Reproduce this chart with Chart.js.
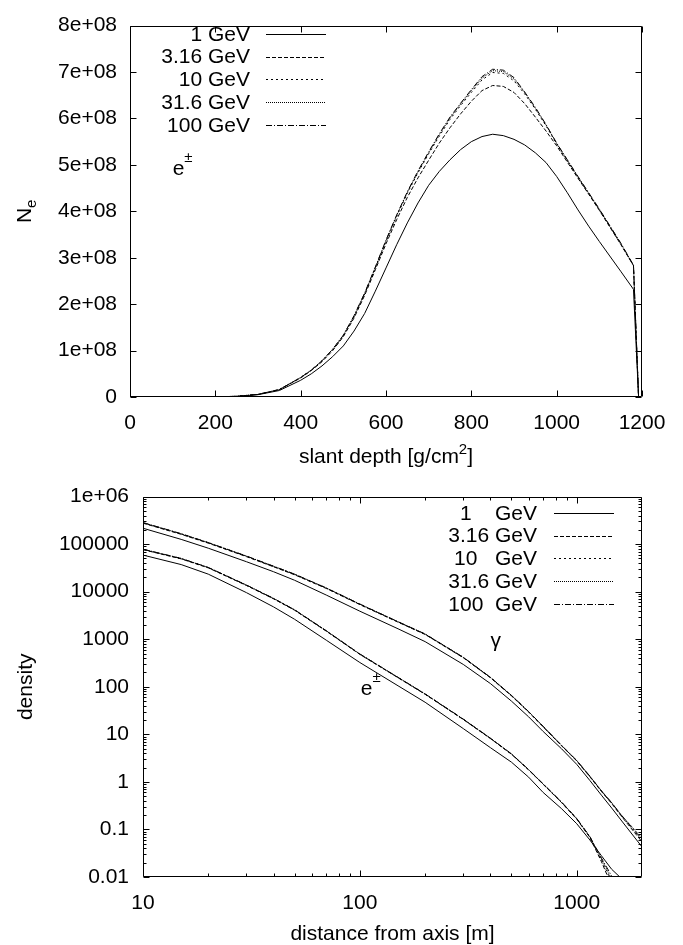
<!DOCTYPE html>
<html lang="en">
<head>
<meta charset="UTF-8">
<title>Shower size and lateral density</title>
<script src="https://cdn.jsdelivr.net/npm/chart.js@4.4.1/dist/chart.umd.min.js"></script>
<style>
  * { margin: 0; padding: 0; }
  body { background: #fff; width: 683px; height: 945px; overflow: hidden; }
  canvas { display: block; }
</style>
</head>
<body>
<canvas id="depthChart" width="683" height="470"></canvas>
<canvas id="lateralChart" width="683" height="475"></canvas>
<script>
  // ---- data ----
  const energyLabels = ['1 GeV', '3.16 GeV', '10 GeV', '31.6 GeV', '100 GeV'];
  const lateralLabels = ['1    GeV', '3.16 GeV', '10   GeV', '31.6 GeV', '100  GeV'];
  const dashes = [[], [4, 2], [2, 3], [1, 1], [6, 2, 1, 2]];

  // slant depth [g/cm2]; Ne in units of 1e8
  const neUnit = 1e8;
  const depth = [0, 100, 200, 250, 300, 350,
    400, 425, 450, 475, 500, 525, 550, 575, 600, 625, 650, 675, 700, 725, 750, 775, 800, 825, 850, 875, 900, 925, 950, 975, 1000, 1025, 1050, 1075, 1100,
    1150, 1180, 1192];
  const ne1 = [0, 0, 0.002, 0.012, 0.05, 0.14,
    0.36, 0.50, 0.67, 0.87, 1.10, 1.42, 1.80, 2.28, 2.78, 3.28, 3.75, 4.18, 4.56, 4.86, 5.11, 5.33, 5.50, 5.61, 5.66, 5.63, 5.55, 5.43, 5.26, 5.05, 4.75, 4.40, 4.03, 3.68, 3.35,
    2.71, 2.32, 0];
  const ne316 = [0, 0, 0.003, 0.015, 0.055, 0.16,
    0.41, 0.57, 0.76, 1.00, 1.30, 1.70, 2.19, 2.74, 3.30, 3.82, 4.30, 4.72, 5.10, 5.47, 5.80, 6.10, 6.37, 6.60, 6.71, 6.69, 6.56, 6.32, 6.03, 5.73, 5.41, 5.06, 4.71, 4.37, 4.02,
    3.29, 2.83, 0];
  const ne10 = [0, 0, 0.003, 0.015, 0.056, 0.16,
    0.42, 0.58, 0.78, 1.02, 1.32, 1.73, 2.22, 2.78, 3.35, 3.89, 4.39, 4.83, 5.24, 5.62, 5.98, 6.28, 6.56, 6.83, 6.99, 6.97, 6.81, 6.53, 6.20, 5.84, 5.45, 5.09, 4.73, 4.38, 4.03,
    3.30, 2.83, 0];
  const ne31 = [0, 0, 0.003, 0.015, 0.056, 0.16,
    0.42, 0.58, 0.78, 1.03, 1.33, 1.74, 2.23, 2.79, 3.37, 3.91, 4.41, 4.85, 5.26, 5.65, 6.01, 6.31, 6.60, 6.87, 7.03, 7.01, 6.85, 6.56, 6.22, 5.86, 5.46, 5.10, 4.74, 4.39, 4.04,
    3.31, 2.84, 0];
  const ne100 = [0, 0, 0.003, 0.015, 0.056, 0.16,
    0.42, 0.58, 0.78, 1.03, 1.33, 1.75, 2.24, 2.80, 3.38, 3.92, 4.42, 4.87, 5.28, 5.67, 6.03, 6.33, 6.62, 6.90, 7.06, 7.04, 6.88, 6.57, 6.24, 5.87, 5.47, 5.11, 4.75, 4.40, 4.05,
    3.32, 2.84, 0];

  // distance from axis [m]
  const dist = [10, 15, 20, 30, 40, 50, 70, 100, 150, 200, 300, 400, 500, 600, 700, 850, 1000, 1150, 1300, 1450, 1600, 2000];
  const gam1   = [216000, 126000, 82200, 42700, 26300, 17400, 8500, 3890, 1660, 891, 295, 117, 50, 23.4, 11.5, 5.0, 2.34, 1.07, 0.525, 0.282, 0.158, 0.043];
  const gam316 = [276000, 161000, 105000, 54600, 33400, 22700, 11700, 5350, 2290, 1260, 408, 155, 64.5, 29.5, 14.4, 5.78, 2.76, 1.28, 0.63, 0.35, 0.195, 0.055];
  const gam10  = [281000, 164000, 107000, 55600, 34000, 23200, 11900, 5450, 2320, 1280, 414, 157, 65.5, 29.9, 14.6, 5.85, 2.80, 1.30, 0.64, 0.36, 0.200, 0.059];
  const gam31  = [283000, 165000, 107500, 56000, 34200, 23300, 12000, 5480, 2330, 1285, 416, 158, 66, 30.1, 14.7, 5.9, 2.82, 1.32, 0.65, 0.366, 0.205, 0.066];
  const gam100 = [284000, 166000, 108000, 56200, 34400, 23400, 12000, 5500, 2340, 1290, 417, 158, 66, 30.2, 14.8, 5.9, 2.82, 1.32, 0.646, 0.363, 0.204, 0.062];
  const ele1   = [58900, 37200, 23400, 9550, 4790, 2630, 955, 324, 105, 47.3, 13.2, 5.25, 2.6, 1.26, 0.60, 0.275, 0.132, 0.060, 0.028, 0.0145, 0.0095, 0.0025];
  const ele316 = [76500, 49000, 31700, 13500, 7080, 4080, 1480, 480, 155, 69.5, 20.5, 8.15, 3.82, 1.79, 0.89, 0.37, 0.165, 0.068, 0.021, 0.0065, 0.0025, 0.0003];
  const ele10  = [77500, 49600, 32100, 13700, 7170, 4130, 1500, 486, 157, 70.3, 20.7, 8.25, 3.86, 1.80, 0.90, 0.375, 0.168, 0.069, 0.023, 0.0078, 0.0032, 0.0004];
  const ele31  = [78000, 49900, 32300, 13750, 7210, 4150, 1505, 488, 157.5, 70.6, 20.8, 8.28, 3.88, 1.81, 0.905, 0.378, 0.170, 0.070, 0.024, 0.0090, 0.0038, 0.0005];
  const ele100 = [78300, 50100, 32400, 13800, 7240, 4170, 1510, 490, 158, 70.8, 20.9, 8.30, 3.89, 1.82, 0.91, 0.38, 0.170, 0.071, 0.025, 0.0105, 0.0045, 0.0006];

  // ticks
  const depthTicks = [0, 200, 400, 600, 800, 1000, 1200];
  const neTicks = [0, 1e8, 2e8, 3e8, 4e8, 5e8, 6e8, 7e8, 8e8];
  const distTicks = [10, 100, 1000];
  const densTicks = [0.01, 0.1, 1, 10, 100, 1000, 10000, 100000, 1000000];

  // ---- helpers ----
  const FACE = '"Liberation Sans", Arial, Helvetica, sans-serif';
  const tickFont = { family: FACE, size: 21 };

  let minorOf = (decades, stop) => {
    const out = [];
    decades.forEach(d => {
      for (let k = 2; k <= 9; k++) if (d * k < stop) out.push(d * k);
    });
    return out;
  };

  let drawParts = (ctx, parts, x, y, align) => {
    // parts: [text, size, rise]
    let w = 0;
    parts.forEach(p => { ctx.font = p[1] + 'px ' + FACE; w += ctx.measureText(p[0]).width; });
    let cx = align === 'center' ? x - w / 2 : (align === 'right' ? x - w : x);
    ctx.textAlign = 'left';
    ctx.textBaseline = 'alphabetic';
    parts.forEach(p => {
      ctx.font = p[1] + 'px ' + FACE;
      ctx.fillText(p[0], cx, y - p[2]);
      cx += ctx.measureText(p[0]).width;
    });
  };

  const frame = {
    id: 'frame',
    afterDraw(chart, args, o) {
      const ctx = chart.ctx;
      const a = chart.chartArea;
      const xs = chart.scales.x, ys = chart.scales.y;
      ctx.save();
      ctx.strokeStyle = '#000';
      ctx.fillStyle = '#000';
      ctx.lineWidth = 1;
      ctx.setLineDash([]);

      const L = Math.round(a.left) + 0.5, R = Math.round(a.right) - 0.5;
      const T = Math.round(a.top) + 0.5, B = Math.round(a.bottom) - 0.5;
      ctx.beginPath();
      ctx.rect(L, T, R - L, B - T);
      ctx.stroke();

      let tickX = (vals, len) => vals.forEach(v => {
        const px = Math.round(xs.getPixelForValue(v)) + 0.5;
        ctx.beginPath();
        ctx.moveTo(px, B); ctx.lineTo(px, B - len);
        ctx.moveTo(px, T); ctx.lineTo(px, T + len);
        ctx.stroke();
      });
      let tickY = (vals, len) => vals.forEach(v => {
        const py = Math.round(ys.getPixelForValue(v)) + 0.5;
        ctx.beginPath();
        ctx.moveTo(L, py); ctx.lineTo(L + len, py);
        ctx.moveTo(R, py); ctx.lineTo(R - len, py);
        ctx.stroke();
      });
      tickX(o.xMajor, 6); tickY(o.yMajor, 6);
      tickX(o.xMinor, 3); tickY(o.yMinor, 3);

      // legend: text right-aligned, line sample to the right
      const lg = o.legend;
      chart.data.datasets.filter(ds => ds.label).forEach((ds, i) => {
        const y = lg.top + i * lg.step;
        ctx.font = '21px ' + FACE;
        ctx.textAlign = 'right';
        ctx.textBaseline = 'middle';
        ctx.fillText(ds.label, lg.right, y + 1);
        ctx.setLineDash(ds.borderDash);
        ctx.beginPath();
        ctx.moveTo(lg.x1, Math.round(y) + 0.5);
        ctx.lineTo(lg.x2, Math.round(y) + 0.5);
        ctx.stroke();
        ctx.setLineDash([]);
      });

      // labels inside the plot, anchored in data coordinates
      o.notes.forEach(n => {
        drawParts(ctx, n.parts, xs.getPixelForValue(n.x), ys.getPixelForValue(n.y), 'left');
      });

      // axis titles
      drawParts(ctx, o.xTitle, (a.left + a.right) / 2, a.bottom + o.xTitleGap, 'center');
      ctx.translate(o.yTitleX, (a.top + a.bottom) / 2);
      ctx.rotate(-Math.PI / 2);
      drawParts(ctx, o.yTitle, 0, 0, 'center');
      ctx.restore();
    }
  };

  let lineSet = (labels, xsArr, series, unit) => series.map((vals, i) => ({
    label: labels[i],
    data: xsArr.map((x, j) => ({ x: x, y: vals[j] * unit })),
    borderColor: '#000',
    borderWidth: 1,
    borderDash: dashes[i],
    pointRadius: 0,
    tension: 0,
    fill: false
  }));

  let axisBase = (min, max, type) => ({
    type: type,
    min: min,
    max: max,
    grid: { display: false, drawTicks: false },
    border: { display: false },
    ticks: { color: '#000', font: tickFont, autoSkip: false, maxRotation: 0 }
  });

  // ---- top chart: Ne vs slant depth ----
  const x1 = axisBase(0, 1200, 'linear');
  x1.afterBuildTicks = s => { s.ticks = depthTicks.map(v => ({ value: v })); };
  x1.afterFit = s => { s.height = 73; };
  x1.ticks.padding = 14;
  x1.ticks.callback = v => String(v);
  const y1 = axisBase(0, 8e8, 'linear');
  y1.afterBuildTicks = s => { s.ticks = neTicks.map(v => ({ value: v })); };
  y1.afterFit = s => { s.width = 130; };
  y1.ticks.padding = 13;
  y1.ticks.callback = v => (v === 0 ? '0' : Math.round(v / 1e8) + 'e+08');

  new Chart(document.getElementById('depthChart'), {
    type: 'line',
    data: { datasets: lineSet(energyLabels, depth, [ne1, ne316, ne10, ne31, ne100], neUnit) },
    options: {
      responsive: false,
      animation: false,
      layout: { padding: { top: 17, right: 41, left: 0, bottom: 0 } },
      scales: { x: x1, y: y1 },
      plugins: {
        legend: { display: false },
        tooltip: { enabled: false },
        frame: {
          xMajor: depthTicks, yMajor: neTicks, xMinor: [], yMinor: [],
          legend: { right: 250, x1: 266, x2: 326, top: 34, step: 22.7 },
          notes: [{ x: 100, y: 4.78e8, parts: [['e', 21, 0], ['\u00b1', 15, 13]] }],
          xTitle: [['slant depth [g/cm', 21, 0], ['2', 15, 9], [']', 21, 0]],
          xTitleGap: 66,
          yTitle: [['N', 21, 0], ['e', 15, -5]],
          yTitleX: 31
        }
      }
    },
    plugins: [frame]
  });

  // ---- bottom chart: lateral density ----
  const x2 = axisBase(10, 2000, 'logarithmic');
  x2.afterBuildTicks = s => { s.ticks = distTicks.map(v => ({ value: v })); };
  x2.afterFit = s => { s.height = 68; };
  x2.ticks.padding = 14;
  x2.ticks.callback = v => String(v);
  const y2 = axisBase(0.01, 1e6, 'logarithmic');
  y2.afterBuildTicks = s => { s.ticks = densTicks.map(v => ({ value: v })); };
  y2.afterFit = s => { s.width = 143; };
  y2.ticks.padding = 14;
  y2.ticks.callback = v => (v === 1e6 ? '1e+06' : String(v));

  new Chart(document.getElementById('lateralChart'), {
    type: 'line',
    data: {
      datasets: lineSet(lateralLabels, dist, [gam1, gam316, gam10, gam31, gam100], 1)
        .concat(lineSet(lateralLabels, dist, [ele1, ele316, ele10, ele31, ele100], 1).map(d => Object.assign(d, { label: '' })))
    },
    options: {
      responsive: false,
      animation: false,
      layout: { padding: { top: 26, right: 41, left: 0, bottom: 0 } },
      scales: { x: x2, y: y2 },
      plugins: {
        legend: { display: false },
        tooltip: { enabled: false },
        frame: {
          xMajor: distTicks, yMajor: densTicks,
          xMinor: minorOf([10, 100, 1000], 2000),
          yMinor: minorOf([0.01, 0.1, 1, 10, 100, 1000, 10000, 100000], 1e6),
          legend: { right: 537, x1: 554, x2: 614, top: 43, step: 22.7 },
          notes: [
            { x: 400, y: 676, parts: [['\u03b3', 21, 0]] },
            { x: 101, y: 66, parts: [['e', 21, 0], ['\u00b1', 15, 13]] }
          ],
          xTitle: [['distance from axis [m]', 21, 0]],
          xTitleGap: 63,
          yTitle: [['density', 21, 0]],
          yTitleX: 32
        }
      }
    },
    plugins: [frame]
  });
</script>
</body>
</html>
